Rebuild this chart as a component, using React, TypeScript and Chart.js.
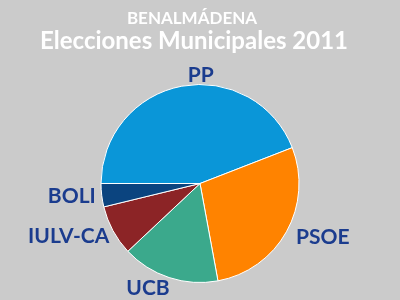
import React, { useEffect, useRef } from "react";
import { Chart, registerables } from "chart.js";

Chart.register(...registerables);

const parties = ["PP", "PSOE", "UCB", "IULV-CA", "BOLI"];
const voteShare = [44.1, 28.0, 15.9, 8.2, 3.8];
const sliceColors = ["#0A96D8", "#FF8300", "#3BA98C", "#8C2426", "#0B447F"];
const titleLine1 = "BENALMÁDENA";
const titleLine2 = "Elecciones Municipales 2011";

const BG = "#CBCBCB";
const LABEL_COLOR = "#1B3C8E";
const FONT = "Lato, 'Open Sans', sans-serif";

const titlePlugin = {
  id: "titles",
  afterDraw(chart: any) {
    const ctx = chart.ctx;
    ctx.save();
    ctx.fillStyle = "#FFFFFF";
    ctx.textAlign = "center";
    ctx.textBaseline = "middle";
    ctx.font = `bold 17px ${FONT}`;
    ctx.fillText(titleLine1, 192, 19);
    ctx.font = `bold 24px ${FONT}`;
    ctx.fillText(titleLine2, 194, 41);
    ctx.restore();
  },
};

const labelPlugin = {
  id: "sliceLabels",
  afterDatasetsDraw(chart: any, _args: any, opts: any) {
    const ctx = chart.ctx;
    const meta = chart.getDatasetMeta(0);
    const labels = chart.data.labels as string[];
    const nudges = opts.nudgeX || [];
    ctx.save();
    ctx.fillStyle = LABEL_COLOR;
    ctx.font = `bold 21px ${FONT}`;
    ctx.textBaseline = "middle";
    meta.data.forEach((arc: any, i: number) => {
      const p = arc.getProps(["x", "y", "startAngle", "endAngle", "outerRadius"], true);
      const mid = (p.startAngle + p.endAngle) / 2;
      const r = p.outerRadius + (opts.gap || 10);
      const cx = Math.cos(mid);
      const x = p.x + cx * r + (nudges[i] || 0);
      const y = p.y + Math.sin(mid) * r;
      ctx.textAlign = cx > 0.3 ? "left" : cx < -0.3 ? "right" : "center";
      ctx.fillText(labels[i], x, y);
    });
    ctx.restore();
  },
};

export default function App() {
  const ref = useRef<HTMLCanvasElement>(null);
  useEffect(() => {
    document.body.style.margin = "0";
    const chart = new Chart(ref.current!, {
      type: "pie",
      data: {
        labels: parties,
        datasets: [
          {
            data: voteShare,
            backgroundColor: sliceColors,
            borderColor: "#FFFFFF",
            borderWidth: 1,
          },
        ],
      },
      options: {
        responsive: false,
        animation: false,
        rotation: 270,
        layout: { padding: { top: 84, bottom: 17, left: 0, right: 0 } },
        plugins: {
          legend: { display: false },
          tooltip: { enabled: false },
          sliceLabels: { gap: 11, nudgeX: [21, 0, 4, 6, 5] },
        } as any,
      },
      plugins: [titlePlugin, labelPlugin],
    });
    return () => chart.destroy();
  }, []);
  return (
    <div style={{ position: "absolute", left: 0, top: 0, width: 400, height: 300, background: BG }}>
      <canvas ref={ref} width={400} height={300} style={{ display: "block" }} />
    </div>
  );
}
